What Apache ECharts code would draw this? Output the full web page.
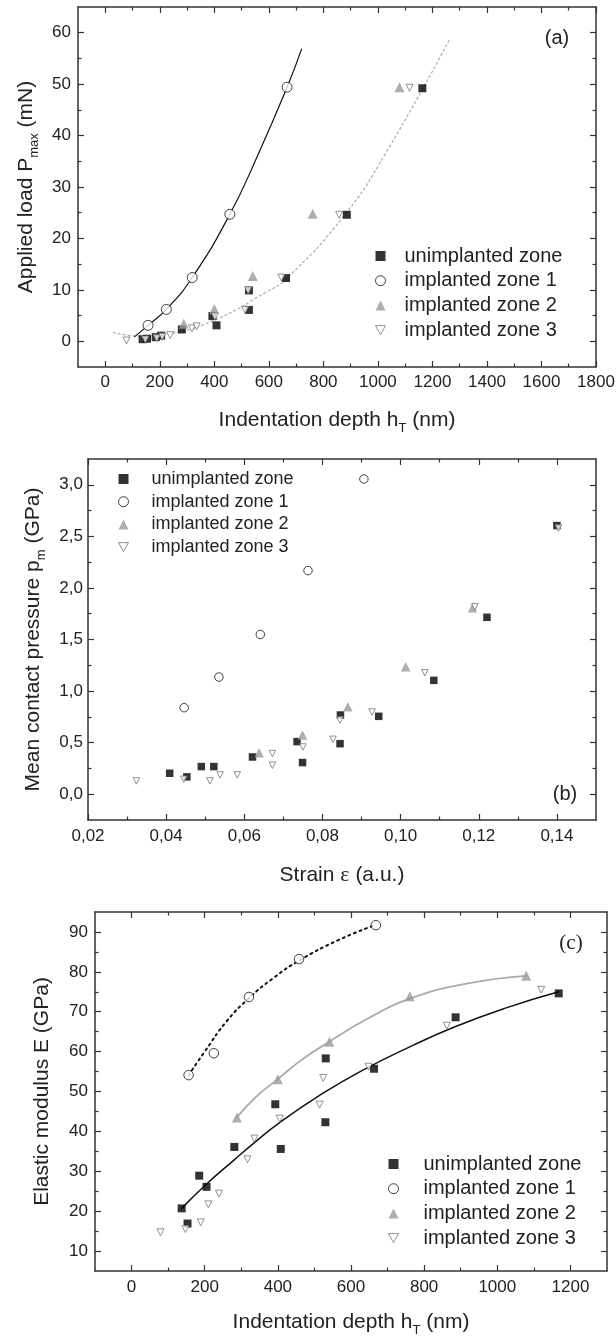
<!DOCTYPE html>
<html><head><meta charset="utf-8">
<script src="https://cdn.jsdelivr.net/npm/echarts@6/dist/echarts.min.js"></script>
<style>html,body{margin:0;padding:0;background:#fff}#c{width:616px;height:1336px}</style>
</head><body><div id="c"></div>
<script>
// ---------- Panel (a): applied load vs indentation depth ----------
const aUnX = [137,153,185,205,281,393,408,527,527,663,886,1163];
const aUnY = [0.4,0.5,0.8,1.1,2.3,4.9,3.1,9.9,6.1,12.3,24.6,49.2];
const aZ1X = [157,224,319,457,667];
const aZ1Y = [3.1,6.2,12.4,24.7,49.4];
const aZ2X = [288,400,541,761,1079];
const aZ2Y = [3.4,6.3,12.7,24.8,49.4];
const aZ3X = [78,147,189,209,238,318,335,402,513,524,646,858,1116];
const aZ3Y = [0.15,0.35,0.6,0.9,1.2,2.5,2.9,4.8,6.1,9.9,12.4,24.6,49.3];
const aFit1X = [108,157,224,319,457,557,667,720];
const aFit1Y = [0.9,3.1,6.2,12.4,24.7,35.9,49.4,56.8];
const aFit2X = [30,125,240,408,591,665,877,1030,1262];
const aFit2Y = [1.7,1.0,1.5,4.3,9.6,12.2,24.5,36.7,58.6];
const aXTicks = [0,200,400,600,800,1000,1200,1400,1600,1800];
const aXMinor = [100,300,500,700,900,1100,1300,1500,1700];
const aYTicks = [0,10,20,30,40,50,60];
const aYMinor = [5,15,25,35,45,55];

// ---------- Panel (b): mean contact pressure vs strain ----------
const bUnX = [0.0409,0.0453,0.0490,0.0522,0.0621,0.0735,0.0749,0.0846,0.0845,0.0944,0.1085,0.1221,0.1400];
const bUnY = [0.203,0.168,0.268,0.268,0.361,0.510,0.307,0.768,0.490,0.755,1.104,1.715,2.604];
const bZ1X = [0.0446,0.0535,0.0641,0.0763,0.0906];
const bZ1Y = [0.839,1.136,1.549,2.168,3.056];
const bZ2X = [0.0638,0.0749,0.0865,0.1013,0.1184];
const bZ2Y = [0.403,0.574,0.849,1.236,1.807];
const bZ3X = [0.0324,0.0445,0.0512,0.0538,0.0582,0.0672,0.0672,0.0750,0.0827,0.0845,0.0927,0.1062,0.1190,0.1404];
const bZ3Y = [0.129,0.145,0.129,0.187,0.187,0.394,0.281,0.458,0.532,0.719,0.797,1.178,1.817,2.58];
const bXTicks = [0.02,0.04,0.06,0.08,0.10,0.12,0.14];
const bXMinor = [0.03,0.05,0.07,0.09,0.11,0.13];
const bYTicks = [0,0.5,1.0,1.5,2.0,2.5,3.0];
const bYMinor = [0.25,0.75,1.25,1.75,2.25,2.75];

// ---------- Panel (c): elastic modulus vs indentation depth ----------
const cUnX = [137,153,185,205,281,393,408,531,530,663,886,1168];
const cUnY = [20.7,16.9,28.9,26.1,36.1,46.8,35.6,58.3,42.3,55.7,68.6,74.6];
const cZ1X = [156,225,321,458,668];
const cZ1Y = [54.1,59.6,73.7,83.2,91.7];
const cZ2X = [288,400,541,761,1079];
const cZ2Y = [43.5,53.1,62.5,73.9,79.0];
const cZ3X = [79,147,189,210,239,317,336,405,514,524,648,862,1120];
const cZ3Y = [14.7,15.5,17.2,21.7,24.4,33.0,38.2,43.2,46.7,53.4,56.2,66.5,75.5];
const cFit1X = [156,200,260,321,390,458,564,668];
const cFit1Y = [54.1,60.0,67.6,73.4,78.6,82.8,87.9,91.8];
const cFit2X = [288,341,400,463,541,646,761,920,1079];
const cFit2Y = [43.5,48.7,53.1,57.8,62.5,68.3,73.3,77.1,79.0];
const cFit0X = [137,205,280,336,402,514,625,768,886,1022,1168];
const cFit0Y = [20.7,26.8,32.8,37.2,42.0,49.0,55.0,61.5,66.3,70.9,75.0];
const cXTicks = [0,200,400,600,800,1000,1200];
const cXMinor = [100,300,500,700,900,1100];
const cYTicks = [10,20,30,40,50,60,70,80,90];
const cYMinor = [15,25,35,45,55,65,75,85];

const NAMES = ['unimplanted zone','implanted zone 1','implanted zone 2','implanted zone 3'];

// ---------- styling helpers ----------
const F = '"Liberation Sans", Arial, sans-serif';
const INK = '#222';
const AX = '#333';
const INV = 'path://M0,0 L10,0 L5,9 Z';
const titleRich = {
  a: {fontSize: 21, fontFamily: F, color: INK, lineHeight: 30, verticalAlign: 'middle'},
  s: {fontSize: 13, fontFamily: F, color: INK, lineHeight: 13, verticalAlign: 'bottom'},
  e: {fontSize: 22, fontFamily: '"Liberation Serif", serif', color: INK, lineHeight: 30, verticalAlign: 'middle'}
};
const zip = (xs, ys) => xs.map((x, i) => [x, ys[i]]);

function axis(gi, min, max, pos, vals, len, lab, fmt, margin, name, nameGap, line) {
  return {
    type: 'value', gridIndex: gi, position: pos, min: min, max: max,
    axisLine: {show: line, onZero: false, lineStyle: {color: AX, width: 1.5}},
    axisTick: {show: true, inside: true, length: len, customValues: vals, lineStyle: {color: AX, width: 1.2}},
    axisLabel: lab ? {show: true, customValues: vals, formatter: fmt, fontSize: 17, fontFamily: F, color: INK, margin: margin} : {show: false},
    splitLine: {show: false},
    name: name || '', nameLocation: 'middle', nameGap: nameGap || 0,
    nameTextStyle: {rich: titleRich}
  };
}
function panelAxes(gi, xr, yr, xT, xM, yT, yM, xf, yf, xm, ym, xName, xGap, yName, yGap) {
  return {
    x: [
      axis(gi, xr[0], xr[1], 'bottom', xT, 6, true, xf, xm, xName, xGap, true),
      axis(gi, xr[0], xr[1], 'bottom', xM, 3.5, false, null, 0, '', 0, false),
      axis(gi, xr[0], xr[1], 'top', xT, 6, false, null, 0, '', 0, true),
      axis(gi, xr[0], xr[1], 'top', xM, 3.5, false, null, 0, '', 0, false)
    ],
    y: [
      axis(gi, yr[0], yr[1], 'left', yT, 6, true, yf, ym, yName, yGap, true),
      axis(gi, yr[0], yr[1], 'left', yM, 3.5, false, null, 0, '', 0, false),
      axis(gi, yr[0], yr[1], 'right', yT, 6, false, null, 0, '', 0, true),
      axis(gi, yr[0], yr[1], 'right', yM, 3.5, false, null, 0, '', 0, false)
    ]
  };
}
const pa = panelAxes(0, [-100,1800], [-5,65], aXTicks, aXMinor, aYTicks, aYMinor,
  v => String(v), v => String(v), 7, 7,
  '{a|Indentation depth h}{s|T}{a| (nm)}', 38, '{a|Applied load P}{s|max}{a| (mN)}', 33);
const pb = panelAxes(1, [0.02,0.15], [-0.25,3.25], bXTicks, bXMinor, bYTicks, bYMinor,
  v => v.toFixed(2).replace('.', ','), v => v.toFixed(1).replace('.', ','), 8, 5,
  '{a|Strain }{e|ε}{a| (a.u.)}', 40, '{a|Mean contact pressure p}{s|m}{a| (GPa)}', 40);
const pc = panelAxes(2, [-100,1300], [5,95], cXTicks, cXMinor, cYTicks, cYMinor,
  v => String(v), v => String(v), 8, 7,
  '{a|Indentation depth h}{s|T}{a| (nm)}', 36, '{a|Elastic modulus E (GPa)}', 38);

function scat(p, name, xs, ys, kind, size) {
  const st = {
    0: {symbol: 'rect', itemStyle: {color: '#000'}},
    1: {symbol: 'circle', itemStyle: {color: '#fff', borderColor: '#111', borderWidth: 1}},
    2: {symbol: 'triangle', itemStyle: {color: '#9a9a9a'}},
    3: {symbol: INV, itemStyle: {color: '#fff', borderColor: '#777', borderWidth: 1}}
  }[kind];
  return {type: 'scatter', name: name, xAxisIndex: 4 * p, yAxisIndex: 4 * p, data: zip(xs, ys),
    symbol: st.symbol, symbolSize: size, itemStyle: st.itemStyle, z: 3 + kind, silent: true,
    emphasis: {disabled: true}};
}
function fit(p, xs, ys, color, width, type) {
  return {type: 'line', name: 'fit', xAxisIndex: 4 * p, yAxisIndex: 4 * p, data: zip(xs, ys),
    smooth: 0.5, showSymbol: false, symbol: 'none', silent: true, z: 2,
    lineStyle: {color: color, width: width, type: type, cap: 'round'}};
}
function legend(left, top, gap, pad, size) {
  return {
    show: true, orient: 'vertical', left: left, top: top, padding: 0, itemGap: gap,
    itemWidth: 10, itemHeight: 10, selectedMode: false,
    textStyle: {fontSize: size, fontFamily: F, color: INK, lineHeight: 20, padding: [0, 0, 0, pad]},
    data: [
      {name: NAMES[0], icon: 'rect', itemStyle: {color: '#000'}},
      {name: NAMES[1], icon: 'circle', itemStyle: {color: '#fff', borderColor: '#111', borderWidth: 1}},
      {name: NAMES[2], icon: 'triangle', itemStyle: {color: '#9a9a9a'}},
      {name: NAMES[3], icon: INV, itemStyle: {color: '#fff', borderColor: '#777', borderWidth: 1}}
    ]
  };
}

const option = {
  animation: false,
  backgroundColor: '#fff',
  grid: [
    {left: 78, top: 7, width: 518, height: 360, outerBoundsMode: 'none'},
    {left: 88, top: 459, width: 508, height: 361, outerBoundsMode: 'none'},
    {left: 95, top: 912, width: 512, height: 359, outerBoundsMode: 'none'}
  ],
  xAxis: [].concat(pa.x, pb.x, pc.x),
  yAxis: [].concat(pa.y, pb.y, pc.y),
  legend: [legend(375, 246, 4.7, 14, 20), legend(118, 469, 2.7, 18, 18), legend(388, 1154, 4.7, 20, 20)],
  graphic: [
    {type: 'text', x: 557, y: 38, style: {text: '(a)', font: '20px "Liberation Sans", Arial', fill: INK, align: 'center', verticalAlign: 'middle'}},
    {type: 'text', x: 565, y: 794, style: {text: '(b)', font: '20px "Liberation Sans", Arial', fill: INK, align: 'center', verticalAlign: 'middle'}},
    {type: 'text', x: 571, y: 943, style: {text: '(c)', font: '21px "Liberation Serif", serif', fill: INK, align: 'center', verticalAlign: 'middle'}}
  ],
  series: [
    fit(0, aFit2X, aFit2Y, '#aaa', 1.2, [2, 3]),
    fit(0, aFit1X, aFit1Y, '#111', 1.2, 'solid'),
    scat(0, NAMES[0], aUnX, aUnY, 0, 8),
    scat(0, NAMES[1], aZ1X, aZ1Y, 1, 10),
    scat(0, NAMES[2], aZ2X, aZ2Y, 2, 10),
    scat(0, NAMES[3], aZ3X, aZ3Y, 3, 7),

    scat(1, NAMES[0], bUnX, bUnY, 0, 7.5),
    scat(1, NAMES[1], bZ1X, bZ1Y, 1, 8.5),
    scat(1, NAMES[2], bZ2X, bZ2Y, 2, 9.5),
    scat(1, NAMES[3], bZ3X, bZ3Y, 3, 6.5),

    fit(2, cFit1X, cFit1Y, '#111', 2, [2, 4]),
    fit(2, cFit2X, cFit2Y, '#aaa', 1.8, 'solid'),
    fit(2, cFit0X, cFit0Y, '#111', 1.5, 'solid'),
    scat(2, NAMES[0], cUnX, cUnY, 0, 8),
    scat(2, NAMES[1], cZ1X, cZ1Y, 1, 9.5),
    scat(2, NAMES[2], cZ2X, cZ2Y, 2, 10),
    scat(2, NAMES[3], cZ3X, cZ3Y, 3, 7)
  ]
};
const chart = echarts.init(document.getElementById('c'), null, {renderer: 'canvas'});
chart.setOption(option);
</script>
</body></html>
